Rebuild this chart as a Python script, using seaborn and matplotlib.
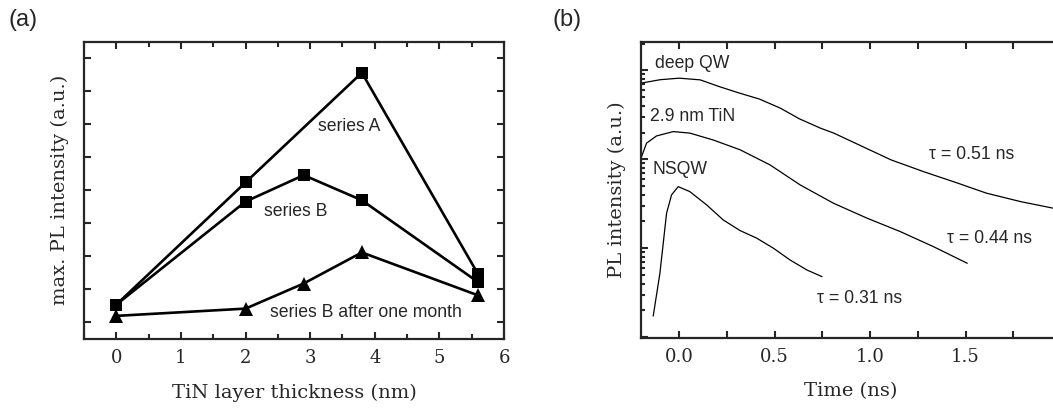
import numpy as np
import pandas as pd
import matplotlib
matplotlib.use("Agg")
import matplotlib.pyplot as plt
import seaborn as sns
from matplotlib.ticker import MultipleLocator, LogLocator, NullFormatter, FixedLocator, FixedFormatter

# ---- panel (a): maximum PL intensity vs TiN thickness ----
thick_A = [0.0, 2.0, 3.8, 5.6]
pl_A = [0.26, 2.11, 3.77, 0.72]
thick_B = [0.0, 2.0, 2.9, 3.8, 5.6]
pl_B = [0.26, 1.82, 2.22, 1.84, 0.60]
thick_B_month = [0.0, 2.0, 2.9, 3.8, 5.6]
pl_B_month = [0.09, 0.20, 0.58, 1.05, 0.40]

# ---- panel (b): time-resolved PL transients ----
t_deep = [-0.20, -0.10, 0.0, 0.11, 0.21, 0.31, 0.42, 0.53, 0.63, 0.74, 0.81, 0.98,
          1.11, 1.28, 1.46, 1.61, 1.79, 1.96]
i_deep = [71.8, 78.5, 81.7, 78.2, 65.7, 56.0, 47.6, 37.6, 28.5, 22.4, 19.7, 13.3,
          9.85, 7.27, 5.39, 4.16, 3.34, 2.82]
t_tin = [-0.197, -0.171, -0.119, -0.031, 0.056, 0.178, 0.319, 0.476, 0.634,
         0.808, 0.984, 1.158, 1.333, 1.509]
i_tin = [10.7, 15.2, 18.3, 20.5, 19.7, 16.5, 12.8, 8.65, 5.15,
         3.21, 2.18, 1.54, 1.04, 0.678]
t_nsqw = [-0.136, -0.101, -0.066, -0.040, -0.005, 0.056, 0.144, 0.231, 0.319,
          0.406, 0.494, 0.581, 0.669, 0.748]
i_nsqw = [0.173, 0.523, 2.48, 3.98, 4.93, 4.33, 3.07, 2.08, 1.58,
          1.30, 1.00, 0.738, 0.570, 0.480]

time_ticks = [0.0, 0.5, 1.0, 1.5]
time_labels = ["0.0", "0.5", "1.0", "1.5"]

sns.set_theme(style="ticks")
plt.rcParams["font.family"] = ["DejaVu Serif"]
plt.rcParams["axes.linewidth"] = 1.6
plt.rcParams["xtick.direction"] = "in"
plt.rcParams["ytick.direction"] = "in"

SANS = "Liberation Sans"
tick_size = 13
label_size = 14

fig = plt.figure(figsize=(10.53, 4.12), dpi=100)
axA = fig.add_axes([84 / 1053, 1 - 339 / 412, 420 / 1053, (339 - 41.7) / 412])
axB = fig.add_axes([641 / 1053, 1 - 338 / 412, 420 / 1053, (338 - 41.7) / 412])

# panel (a) series
dfA = pd.DataFrame({"x": thick_A, "y": pl_A})
dfB = pd.DataFrame({"x": thick_B, "y": pl_B})
dfM = pd.DataFrame({"x": thick_B_month, "y": pl_B_month})
common = dict(color="black", linewidth=1.9, markeredgewidth=0, legend=False, ax=axA)
sns.lineplot(data=dfA, x="x", y="y", marker="s", markersize=8.2, **common)
sns.lineplot(data=dfB, x="x", y="y", marker="s", markersize=8.2, **common)
sns.lineplot(data=dfM, x="x", y="y", marker="^", markersize=10, **common)

axA.set_xlim(-0.5, 6.0)
axA.set_ylim(-0.26, 4.24)
axA.xaxis.set_major_locator(MultipleLocator(1))
axA.xaxis.set_minor_locator(MultipleLocator(0.5))
axA.yaxis.set_major_locator(MultipleLocator(1))
axA.yaxis.set_minor_locator(MultipleLocator(0.5))
axA.tick_params(which="both", top=True, right=True, width=1.5,
                labelleft=False, labelsize=tick_size, pad=7)
axA.tick_params(which="major", length=5)
axA.tick_params(which="minor", length=3.5)
axA.tick_params(axis="y", which="minor", length=5)
axA.set_xlabel("TiN layer thickness (nm)", fontsize=label_size, labelpad=12)
axA.set_ylabel("max. PL intensity (a.u.)", fontsize=label_size, labelpad=11)

txt = dict(family=SANS, fontsize=12.7, va="center", ha="left")
axA.text(3.12, 2.95, "series A", **txt)
axA.text(2.28, 1.67, "series B", **txt)
axA.text(2.38, 0.14, "series B after one month", **txt)

# panel (b) transients on a log scale
for tt, ii in [(t_deep, i_deep), (t_tin, i_tin), (t_nsqw, i_nsqw)]:
    sns.lineplot(x=tt, y=ii, color="black", linewidth=0.9, ax=axB,
                 sort=False, legend=False)

axB.set_yscale("log")
axB.set_xlim(-0.2, 2.0)
axB.set_ylim(0.098, 210)
axB.xaxis.set_major_locator(FixedLocator(time_ticks))
axB.xaxis.set_major_formatter(FixedFormatter(time_labels))
axB.xaxis.set_minor_locator(MultipleLocator(0.25))
axB.yaxis.set_major_locator(LogLocator(base=10))
axB.yaxis.set_minor_locator(LogLocator(base=10, subs=np.arange(2, 10)))
axB.yaxis.set_minor_formatter(NullFormatter())
axB.tick_params(which="both", top=True, right=True, width=1.5,
                labelleft=False, labelsize=tick_size, pad=7)
axB.tick_params(which="major", length=5)
axB.tick_params(which="minor", length=3)
axB.tick_params(axis="x", which="minor", length=5)
axB.set_xlabel("Time (ns)", fontsize=label_size, labelpad=12)
axB.set_ylabel("PL intensity (a.u.)", fontsize=label_size, labelpad=11)

axB.text(-0.128, 120.5, "deep QW", **txt)
axB.text(-0.154, 30.2, "2.9 nm TiN", **txt)
axB.text(-0.14, 7.6, "NSQW", **txt)
axB.text(1.306, 11.2, "τ = 0.51 ns", **txt)
axB.text(1.404, 1.30, "τ = 0.44 ns", **txt)
axB.text(0.721, 0.274, "τ = 0.31 ns", **txt)

fig.text(8 / 1053, 1 - 20 / 412, "(a)", family=SANS, fontsize=17, va="center", ha="left")
fig.text(553 / 1053, 1 - 20 / 412, "(b)", family=SANS, fontsize=17, va="center", ha="left")

fig.savefig("out.png", dpi=100)
